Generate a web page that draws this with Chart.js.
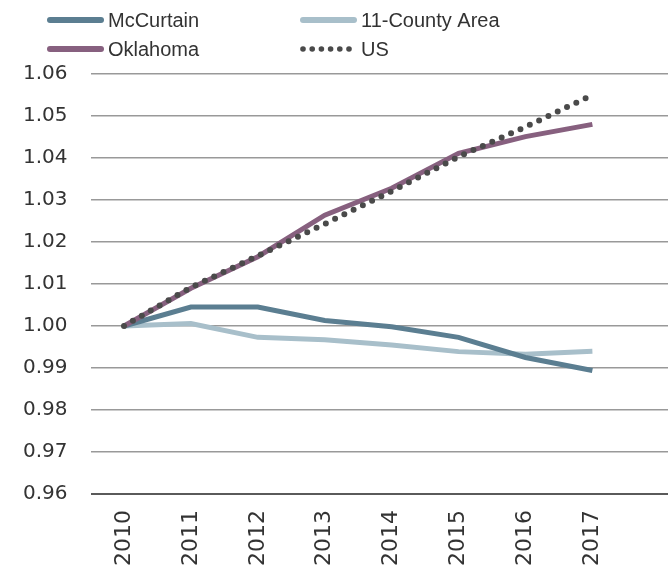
<!DOCTYPE html>
<html lang="en">
<head>
    <meta charset="UTF-8">
    <title>Population index, 2010 = 1.00</title>
    <script src="https://cdn.jsdelivr.net/npm/chart.js@4"></script>
    <style>
        html, body { margin: 0; padding: 0; background: #fff; }
        #wrap { width: 668px; height: 576px; position: relative; }
    </style>
</head>
<body>
    <div id="wrap"><canvas id="chart"></canvas></div>

    <script>
        // Data
        const years = [2010, 2011, 2012, 2013, 2014, 2015, 2016, 2017];
        const mccurtain = [1.000, 1.0045, 1.0045, 1.0013, 0.9998, 0.9973, 0.9925, 0.9894];
        const county11 = [1.000, 1.0006, 0.9973, 0.9967, 0.9955, 0.9939, 0.9933, 0.9940];
        const oklahoma = [1.000, 1.0090, 1.0165, 1.0264, 1.0328, 1.0411, 1.0451, 1.0480];
        const us = [1.000, 1.0092, 1.0167, 1.0243, 1.0321, 1.0403, 1.0474, 1.0550];
        const yTicks = [0.96, 0.97, 0.98, 0.99, 1.00, 1.01, 1.02, 1.03, 1.04, 1.05, 1.06];

        const toPoints = arr => arr.map((v, i) => ({ x: years[i], y: v }));

        // legend in two fixed columns, as in the original
        const legendSlots = [
            { x: 47, y: 20 },
            { x: 300, y: 20 },
            { x: 47, y: 49 },
            { x: 300, y: 49 }
        ];
        const legendPlugin = {
            id: 'gridLegend',
            afterDraw(chart) {
                const ctx = chart.ctx;
                ctx.save();
                chart.data.datasets.forEach(ds => {
                    const slot = legendSlots[ds.legendSlot];
                    ctx.strokeStyle = ds.borderColor;
                    ctx.lineCap = 'round';
                    if (ds.borderDash) {
                        ctx.fillStyle = ds.borderColor;
                        for (let k = 0; k < 6; k++) {
                            ctx.beginPath();
                            ctx.arc(slot.x + 3 + k * 9.2, slot.y, 2.8, 0, Math.PI * 2);
                            ctx.fill();
                        }
                    } else {
                        ctx.lineWidth = 6;
                        ctx.beginPath();
                        ctx.moveTo(slot.x + 3, slot.y);
                        ctx.lineTo(slot.x + 54, slot.y);
                        ctx.stroke();
                    }
                    ctx.fillStyle = '#333';
                    ctx.font = '20px "Liberation Sans", Arial, sans-serif';
                    ctx.textBaseline = 'middle';
                    ctx.fillText(ds.label, slot.x + 61, slot.y + 1);
                });
                ctx.restore();
            }
        };

        const ctx = document.getElementById('chart').getContext('2d');
        new Chart(ctx, {
            type: 'line',
            data: {
                datasets: [
                    {
                        label: 'US',
                        data: toPoints(us),
                        borderColor: '#4a4a4a',
                        borderWidth: 6,
                        borderDash: [0, 10.3],
                        borderCapStyle: 'round',
                        pointRadius: 0,
                        order: 0,
                        legendSlot: 3
                    },
                    {
                        label: 'Oklahoma',
                        data: toPoints(oklahoma),
                        borderColor: '#87607f',
                        borderWidth: 5,
                        pointRadius: 0,
                        order: 1,
                        legendSlot: 2
                    },
                    {
                        label: 'McCurtain',
                        data: toPoints(mccurtain),
                        borderColor: '#5b7e91',
                        borderWidth: 5,
                        pointRadius: 0,
                        order: 2,
                        legendSlot: 0
                    },
                    {
                        label: '11-County Area',
                        data: toPoints(county11),
                        borderColor: '#a8bfca',
                        borderWidth: 5,
                        pointRadius: 0,
                        order: 3,
                        legendSlot: 1
                    }
                ]
            },
            options: {
                responsive: true,
                maintainAspectRatio: false,
                animation: false,
                layout: { padding: { top: 74, left: 0, right: 0, bottom: 2 } },
                plugins: {
                    legend: { display: false },
                    tooltip: { enabled: false }
                },
                scales: {
                    x: {
                        type: 'linear',
                        min: 2009.5,
                        max: 2018.13,
                        afterBuildTicks: axis => { axis.ticks = years.map(v => ({ value: v })); },
                        grid: { display: false },
                        border: { display: false },
                        ticks: {
                            minRotation: 90,
                            maxRotation: 90,
                            padding: 8,
                            color: '#333',
                            font: { family: '"DejaVu Sans", sans-serif', size: 22 },
                            callback: v => String(v)
                        }
                    },
                    y: {
                        min: 0.96,
                        max: 1.06,
                        afterBuildTicks: axis => { axis.ticks = yTicks.map(v => ({ value: v })); },
                        border: { display: false },
                        grid: {
                            drawTicks: false,
                            color: c => (c.tick && Math.abs(c.tick.value - 0.96) < 1e-9) ? '#5a5a5a' : '#999',
                            lineWidth: c => (c.tick && Math.abs(c.tick.value - 0.96) < 1e-9) ? 2 : 1.5
                        },
                        ticks: {
                            padding: 23,
                            color: '#333',
                            font: { family: '"DejaVu Sans", sans-serif', size: 20 },
                            callback: v => Number(v).toFixed(2)
                        }
                    }
                }
            },
            plugins: [legendPlugin]
        });
    </script>
</body>
</html>
